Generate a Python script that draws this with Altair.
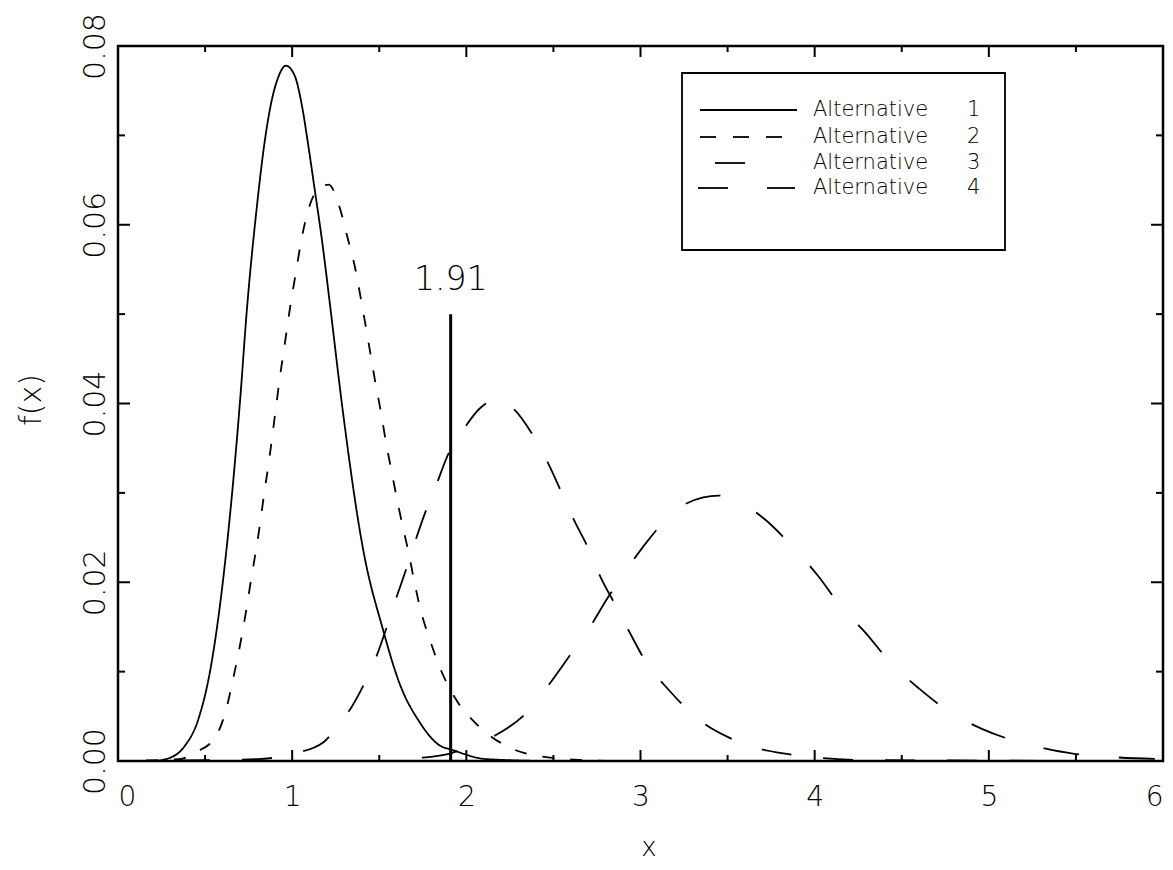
import altair as alt
import pandas as pd

# ---------------- data ----------------
series_names = ["Alternative 1", "Alternative 2", "Alternative 3", "Alternative 4"]

x_alt1 = [0.00, 0.20, 0.29, 0.38, 0.46, 0.53, 0.61, 0.70, 0.74, 0.80, 0.84, 0.875, 0.92, 0.964,
          1.014, 1.06, 1.09, 1.126, 1.173, 1.22, 1.284, 1.41, 1.52, 1.62, 1.73, 1.85, 1.91, 2.12, 2.50, 3.00]
y_alt1 = [0.0, 0.0, 0.0003, 0.0016, 0.0046, 0.0102, 0.0214, 0.0401, 0.0505, 0.0625, 0.0690, 0.0732, 0.0765, 0.0778,
          0.0767, 0.0729, 0.0692, 0.0644, 0.0580, 0.0506, 0.0402, 0.0234, 0.0148, 0.0085, 0.0044, 0.0017, 0.0013, 0.0002, 0.0, 0.0]

x_alt2 = [0.00, 0.35, 0.45, 0.56, 0.62, 0.66, 0.72, 0.77, 0.80, 0.84, 0.87, 0.90, 0.93, 0.96, 0.99,
          1.02, 1.05, 1.09, 1.15, 1.21, 1.27, 1.32, 1.36, 1.39, 1.42, 1.45, 1.48, 1.51, 1.54, 1.57,
          1.61, 1.64, 1.67, 1.70, 1.74, 1.79, 1.86, 1.94, 2.06, 2.25, 2.43, 2.80]
y_alt2 = [0.0, 0.0002, 0.0010, 0.0027, 0.0057, 0.0091, 0.0150, 0.0210, 0.0245, 0.0300, 0.0340, 0.0385, 0.0430, 0.0470, 0.0510,
          0.0545, 0.0580, 0.0615, 0.0640, 0.0645, 0.0621, 0.0584, 0.0553, 0.0522, 0.0489, 0.0455, 0.0421, 0.0390, 0.0355, 0.0325,
          0.0285, 0.0258, 0.0232, 0.0202, 0.0167, 0.0136, 0.0099, 0.0069, 0.0041, 0.0015, 0.0005, 0.0]

x_alt3 = [0.00, 0.80, 1.00, 1.18, 1.25, 1.31, 1.41, 1.48, 1.54, 1.59, 1.65, 1.70, 1.76, 1.82, 1.90, 1.98,
          2.08, 2.17, 2.26, 2.39, 2.47, 2.55, 2.62, 2.70, 2.77, 2.86, 2.94, 3.04, 3.16, 3.33, 3.50,
          3.68, 3.84, 4.00, 4.30, 6.00]
y_alt3 = [0.0, 0.0002, 0.0008, 0.0021, 0.0036, 0.0051, 0.0085, 0.0115, 0.0148, 0.0178, 0.0212, 0.0242, 0.0276, 0.0305, 0.0345, 0.0370,
          0.0395, 0.0404, 0.0396, 0.0362, 0.0333, 0.0299, 0.0269, 0.0238, 0.0206, 0.0173, 0.0143, 0.0108, 0.0080, 0.0047, 0.0027,
          0.0014, 0.0008, 0.0004, 0.0001, 0.0]

x_alt4 = [0.00, 1.50, 1.70, 1.90, 2.00, 2.16, 2.34, 2.48, 2.59, 2.71, 2.81, 2.92, 3.04, 3.20, 3.36, 3.45,
          3.54, 3.71, 3.88, 4.02, 4.15, 4.29, 4.44, 4.60, 4.79, 4.96, 5.14, 5.32, 5.49, 5.66, 6.00]
y_alt4 = [0.0, 0.0, 0.0003, 0.0008, 0.0015, 0.0028, 0.0053, 0.0087, 0.0117, 0.0150, 0.0182, 0.0214, 0.0246, 0.0280, 0.0295, 0.0297,
          0.0292, 0.0271, 0.0238, 0.0207, 0.0173, 0.0144, 0.0109, 0.0081, 0.0053, 0.0036, 0.0023, 0.0014, 0.0008, 0.0005, 0.0002]

x_ticks_major = [0, 1, 2, 3, 4, 5, 6]
x_ticks_minor = [0.5, 1.5, 2.5, 3.5, 4.5, 5.5]
y_ticks_major = [0.0, 0.02, 0.04, 0.06, 0.08]
y_ticks_minor = [0.01, 0.03, 0.05, 0.07]

cutoff_x = [1.91]
cutoff_top = [0.05]
cutoff_label = ["1.91"]

x_title = "x"
y_title = "f(x)"

# ---------------- layout / style ----------------
W, H = 1045, 715
FONT = "DejaVu Sans"
LIGHT = 200
dashes = [[1, 0], [12, 16], [30, 32], [36, 40]]

rows = []
for name, xs, ys in zip(series_names, [x_alt1, x_alt2, x_alt3, x_alt4], [y_alt1, y_alt2, y_alt3, y_alt4]):
    for xv, yv in zip(xs, ys):
        rows.append({"series": name, "x": xv, "f": yv})
curves_df = pd.DataFrame(rows)

xscale = alt.Scale(domain=[0, 6], nice=False, zero=False)
yscale = alt.Scale(domain=[0, 0.08], nice=False, zero=False)

AX = alt.Axis(values=x_ticks_major, format="d", title=None, ticks=False, tickSize=0,
              domain=False, grid=False, labelFont=FONT, labelFontSize=28,
              labelFontWeight=LIGHT, labelPadding=22, labelColor="black", labelFlush=True)
AY = alt.Axis(values=y_ticks_major, format=".2f", title=None, ticks=False, tickSize=0,
              domain=False, grid=False, labelFont=FONT, labelFontSize=30,
              labelFontWeight=LIGHT, labelAngle=270, labelAlign="center",
              labelBaseline="alphabetic", labelPadding=14, labelColor="black", labelFlush=False)

curves = alt.Chart(curves_df).mark_line(color="black", strokeWidth=1.8, interpolate="monotone").encode(
    x=alt.X("x:Q", scale=xscale, axis=AX),
    y=alt.Y("f:Q", scale=yscale, axis=AY),
    strokeDash=alt.StrokeDash("series:N", scale=alt.Scale(domain=series_names, range=dashes), legend=None),
    detail="series:N",
)

layers = [curves]

# inward ticks on all four sides
def xticks(vals, length):
    d = pd.DataFrame({"x": vals})
    bottom = alt.Chart(d).mark_rule(color="black", strokeWidth=2).encode(
        x=alt.X("x:Q", scale=xscale, axis=AX), y=alt.value(H), y2=alt.value(H - length))
    top = alt.Chart(d).mark_rule(color="black", strokeWidth=2).encode(
        x=alt.X("x:Q", scale=xscale, axis=AX), y=alt.value(0), y2=alt.value(length))
    return [bottom, top]

def yticks(vals, length):
    d = pd.DataFrame({"f": vals})
    left = alt.Chart(d).mark_rule(color="black", strokeWidth=2).encode(
        y=alt.Y("f:Q", scale=yscale, axis=AY), x=alt.value(0), x2=alt.value(length))
    right = alt.Chart(d).mark_rule(color="black", strokeWidth=2).encode(
        y=alt.Y("f:Q", scale=yscale, axis=AY), x=alt.value(W), x2=alt.value(W - length))
    return [left, right]

layers += xticks(x_ticks_major, 11) + xticks(x_ticks_minor, 6)
layers += yticks(y_ticks_major, 12) + yticks(y_ticks_minor, 7)

# cut-off line and its label
cut_df = pd.DataFrame({"x": cutoff_x, "f0": [0.0], "f": cutoff_top, "label": cutoff_label})
layers.append(alt.Chart(cut_df).mark_rule(color="black", strokeWidth=3).encode(
    x=alt.X("x:Q", scale=xscale, axis=AX), y=alt.Y("f0:Q", scale=yscale, axis=AY), y2="f:Q"))
layers.append(alt.Chart(cut_df).mark_text(font=FONT, fontSize=33, fontWeight=LIGHT, color="black",
                                          baseline="alphabetic", align="center", dy=-24).encode(
    x=alt.X("x:Q", scale=xscale, axis=AX), y=alt.Y("f:Q", scale=yscale, axis=AY), text="label:N"))

# legend (drawn by hand inside the plot)
one = pd.DataFrame({"k": [0]})
layers.append(alt.Chart(one).mark_rect(fill="white", stroke="black", strokeWidth=1.8).encode(
    x=alt.value(564), x2=alt.value(887), y=alt.value(27), y2=alt.value(204)))

row_y = [64, 91, 117, 142]
sample_segments = [
    [(582, 679)],
    [(582, 598), (615, 631), (648, 664)],
    [(597, 627)],
    [(580, 610), (649, 677)],
]
for name, ry, segs in zip(series_names, row_y, sample_segments):
    for (a, b) in segs:
        layers.append(alt.Chart(one).mark_rule(color="black", strokeWidth=1.8).encode(
            x=alt.value(a), x2=alt.value(b), y=alt.value(ry)))
    word, num = name.rsplit(" ", 1)
    layers.append(alt.Chart(one).mark_text(font=FONT, fontSize=21, fontWeight=LIGHT, color="black",
                                           align="left", baseline="middle").encode(
        x=alt.value(695), y=alt.value(ry), text=alt.value(word)))
    layers.append(alt.Chart(one).mark_text(font=FONT, fontSize=21, fontWeight=LIGHT, color="black",
                                           align="left", baseline="middle").encode(
        x=alt.value(849), y=alt.value(ry), text=alt.value(num)))

# axis titles
layers.append(alt.Chart(one).mark_text(font=FONT, fontSize=30, fontWeight=LIGHT, color="black",
                                       align="center", baseline="middle", angle=270).encode(
    x=alt.value(-86), y=alt.value(354), text=alt.value(y_title)))
layers.append(alt.Chart(one).mark_text(font=FONT, fontSize=26, fontWeight=LIGHT, color="black",
                                       align="center", baseline="middle").encode(
    x=alt.value(531), y=alt.value(802), text=alt.value(x_title)))

chart = alt.layer(*layers).properties(
    width=W, height=H,
    padding={"left": 110, "top": 38, "right": 2, "bottom": 100},
    autosize=alt.AutoSizeParams(type="none"),
    background="white",
).configure_view(stroke="black", strokeWidth=2.5)

chart.save("out.html", embed_options={"renderer": "svg", "actions": False})
